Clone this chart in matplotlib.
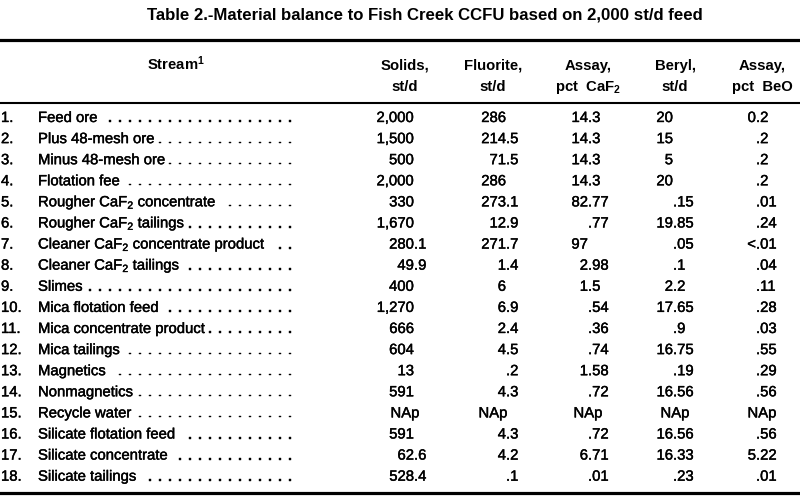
import matplotlib
matplotlib.use('Agg')
import matplotlib.pyplot as plt
import matplotlib.patheffects as pe

plt.rcParams['font.family'] = ['Liberation Sans', 'DejaVu Sans']
plt.rcParams['mathtext.fontset'] = 'custom'
plt.rcParams['mathtext.rm'] = 'Liberation Sans'
plt.rcParams['mathtext.it'] = 'Liberation Sans:italic'
plt.rcParams['mathtext.bf'] = 'Liberation Sans:bold'

# Table content
title = 'Table 2.-Material balance to Fish Creek CCFU based on 2,000 st/d feed'
headers = ['Solids,\nst/d', 'Fluorite,\nst/d', r'Assay,' + '\n' + r'pct  CaF$_\mathbf{2}$',
           'Beryl,\nst/d', 'Assay,\npct  BeO']
streams = ['Feed ore', 'Plus 48-mesh ore', 'Minus 48-mesh ore', 'Flotation fee',
           r'Rougher CaF$_2$ concentrate', r'Rougher CaF$_2$ tailings',
           r'Cleaner CaF$_2$ concentrate product', r'Cleaner CaF$_2$ tailings',
           'Slimes', 'Mica flotation feed', 'Mica concentrate product', 'Mica tailings',
           'Magnetics', 'Nonmagnetics', 'Recycle water', 'Silicate flotation feed',
           'Silicate concentrate', 'Silicate tailings']
solids = ['2,000', '1,500', '500', '2,000', '330', '1,670', '280.1', '49.9', '400',
          '1,270', '666', '604', '13', '591', 'NAp', '591', '62.6', '528.4']
fluorite = ['286', '214.5', '71.5', '286', '273.1', '12.9', '271.7', '1.4', '6',
            '6.9', '2.4', '4.5', '.2', '4.3', 'NAp', '4.3', '4.2', '.1']
assay_caf2 = ['14.3', '14.3', '14.3', '14.3', '82.77', '.77', '97', '2.98', '1.5',
              '.54', '.36', '.74', '1.58', '.72', 'NAp', '.72', '6.71', '.01']
beryl = ['20', '15', '5', '20', '.15', '19.85', '.05', '.1', '2.2',
         '17.65', '.9', '16.75', '.19', '16.56', 'NAp', '16.56', '16.33', '.23']
assay_beo = ['0.2', '.2', '.2', '.2', '.01', '.24', '<.01', '.04', '.11',
             '.28', '.03', '.55', '.29', '.56', 'NAp', '.56', '5.22', '.01']
columns = [solids, fluorite, assay_caf2, beryl, assay_beo]

# layout (pixel coords)
col_center = [405, 493, 588, 675, 762]
col_decimal = [414, 506, 588, 673, 756]
row_y0, row_dy = 122, 21.1
fs = 10.7
heavy = [pe.withStroke(linewidth=0.3, foreground='black')]

fig = plt.figure(figsize=(8, 4.96), dpi=100)
ax = fig.add_axes([0, 0, 1, 1])
ax.set_xlim(0, 800)
ax.set_ylim(496, 0)
ax.axis('off')


def cell(x, y, s, ha='left', bold=False):
    return ax.text(x, y, s, ha=ha, va='baseline', fontsize=fs,
                   fontweight='bold' if bold else 'normal',
                   path_effects=None if bold else heavy)


ax.text(425, 19, title, ha='center', va='baseline', fontsize=12.1, fontweight='bold')

# rules
ax.axhline(40, color='black', lw=2.3)
ax.axhline(103, color='black', lw=1.5)
ax.axhline(493, color='black', lw=2.3)

# header
cell(176, 70, r'Stream$^\mathbf{1}$', ha='center', bold=True)
for cx, h in zip(col_center, headers):
    top, bottom = h.split('\n')
    cell(cx, 70, top, ha='center', bold=True)
    cell(cx, 91, bottom, ha='center', bold=True)

fig.canvas.draw()
renderer = fig.canvas.get_renderer()

for i, name in enumerate(streams):
    y = row_y0 + i * row_dy
    cell(1, y, f'{i + 1}.')
    t = cell(38, y, name)
    x_end = t.get_window_extent(renderer).x1
    # dot leaders on a fixed grid
    xd = 290
    while xd > x_end + 4:
        cell(xd, y, '.', ha='center')
        xd -= 10
    for cx, xdec, col in zip(col_center, col_decimal, columns):
        s = col[i]
        if s == 'NAp':
            cell(cx, y, s, ha='center')
            continue
        if '.' in s:
            k = s.index('.')
            whole, frac = s[:k], s[k:]
        else:
            whole, frac = s, ''
        if whole:
            cell(xdec, y, whole, ha='right')
        if frac:
            cell(xdec, y, frac)

fig.savefig('out.png', dpi=100)
